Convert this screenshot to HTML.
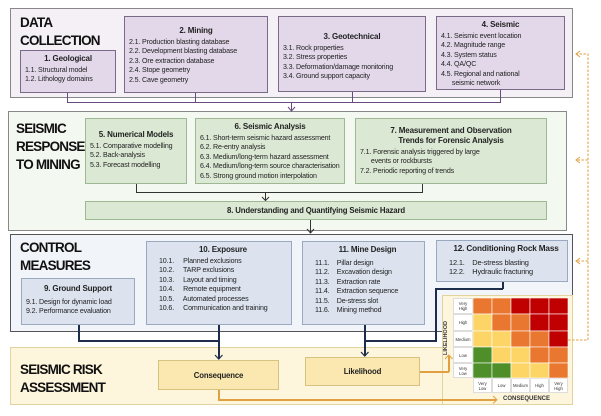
<!DOCTYPE html><html><head><style>
*{margin:0;padding:0;box-sizing:border-box}
body{width:601px;height:416px;background:#fff;position:relative;font-family:"Liberation Sans",sans-serif;overflow:hidden;color:#222}
.a{position:absolute}
.sec{position:absolute;border:1px solid #888}
.t{position:absolute;font-weight:bold;font-size:13.5px;line-height:18px;color:#111;letter-spacing:-0.8px}
.b{position:absolute;padding:3px 4px;font-size:7.1px;line-height:9.4px;letter-spacing:-0.15px;white-space:nowrap}
.b h{display:block;text-align:center;font-weight:bold;font-size:8px;margin-bottom:2px;line-height:10px}
.p{background:#e2d8ea;border:1px solid #7a6a88}
.g{background:#dbe8d4;border:1px solid #9fb894}
.bl{background:#dce3ef;border:1px solid #9aa8c0}
.y{background:#fbe8b0;border:1px solid #d8c280;font-weight:bold;font-size:7.8px;text-align:center}
.ln{position:absolute;background:#333}
.lab{position:absolute;font-size:4.2px;text-align:center;color:#333;line-height:5px;display:flex;align-items:center;justify-content:center;background:#fff;border:0.5px solid #ddd}
</style></head><body>
<div class="sec" style="left:10px;top:8px;width:563px;height:90px;background:#f4f0f6"></div>
<div class="t" style="left:20px;top:14px">DATA<br>COLLECTION</div>
<div class="b p" style="left:20px;top:50px;width:96px;height:43px"><h>1. Geological</h>1.1. Structural model<br>1.2. Lithology domains</div>
<div class="b p" style="left:124px;top:16px;width:144px;height:77px"><h style="margin-top:6px">2. Mining</h>2.1. Production blasting database<br>2.2. Development blasting database<br>2.3. Ore extraction database<br>2.4. Stope geometry<br>2.5. Cave geometry</div>
<div class="b p" style="left:278px;top:16px;width:148px;height:76px"><h style="margin-top:12px">3. Geotechnical</h>3.1. Rock properties<br>3.2. Stress properties<br>3.3. Deformation/damage monitoring<br>3.4. Ground support capacity</div>
<div class="b p" style="left:436px;top:16px;width:129px;height:74px"><h>4. Seismic</h>4.1. Seismic event location<br>4.2. Magnitude range<br>4.3. System status<br>4.4. QA/QC<br>4.5. Regional and national<br>&nbsp;&nbsp;&nbsp;&nbsp;&nbsp;&nbsp;seismic network</div>
<div class="ln" style="left:67px;top:93px;width:1px;height:10px;background:#6a4a80"></div>
<div class="ln" style="left:195px;top:93px;width:1px;height:10px;background:#6a4a80"></div>
<div class="ln" style="left:352px;top:92px;width:1px;height:11px;background:#6a4a80"></div>
<div class="ln" style="left:500px;top:90px;width:1px;height:13px;background:#6a4a80"></div>
<div class="ln" style="left:67px;top:102px;width:434px;height:1px;background:#6a4a80"></div>
<div class="ln" style="left:291px;top:102px;width:1px;height:9px;background:#6a4a80"></div>
<div class="sec" style="left:8px;top:111px;width:559px;height:120px;background:#f3f8f0"></div>
<div class="t" style="left:16px;top:120px">SEISMIC<br>RESPONSE<br>TO MINING</div>
<div class="b g" style="left:85px;top:118px;width:102px;height:66px"><h style="margin-top:8px">5. Numerical Models</h>5.1. Comparative modelling<br>5.2. Back-analysis<br>5.3. Forecast modelling</div>
<div class="b g" style="left:195px;top:118px;width:150px;height:66px"><h>6. Seismic Analysis</h>6.1. Short-term seismic hazard assessment<br>6.2. Re-entry analysis<br>6.3. Medium/long-term hazard assessment<br>6.4. Medium/long-term source characterisation<br>6.5. Strong ground motion interpolation</div>
<div class="b g" style="left:355px;top:118px;width:192px;height:66px"><h style="margin-top:4px">7. Measurement and Observation<br>Trends for Forensic Analysis</h>7.1. Forensic analysis triggered by large<br>&nbsp;&nbsp;&nbsp;&nbsp;&nbsp;&nbsp;events or rockbursts<br>7.2. Periodic reporting of trends</div>
<div class="ln" style="left:136px;top:184px;width:1px;height:9px"></div>
<div class="ln" style="left:422px;top:184px;width:1px;height:9px"></div>
<div class="ln" style="left:136px;top:192px;width:287px;height:1px"></div>
<div class="ln" style="left:265px;top:192px;width:1px;height:8px"></div>
<div class="b g" style="left:85px;top:201px;width:462px;height:19px;text-align:center;font-weight:bold;font-size:7.8px;padding-top:4px">8. Understanding and Quantifying Seismic Hazard</div>
<div class="ln" style="left:310px;top:220px;width:1px;height:13px"></div>
<div class="sec" style="left:10px;top:234px;width:563px;height:98px;background:#f1f4f9;border-color:#555"></div>
<div class="t" style="left:20px;top:239px">CONTROL<br>MEASURES</div>
<div class="b bl" style="left:21px;top:278px;width:114px;height:47px"><h style="margin-top:2px;margin-bottom:4px">9. Ground Support</h>9.1. Design for dynamic load<br>9.2. Performance evaluation</div>
<div class="b bl" style="left:146px;top:241px;width:146px;height:84px;padding-left:12px"><h>10. Exposure</h>10.1.&nbsp;&nbsp;&nbsp;&nbsp; Planned exclusions<br>10.2.&nbsp;&nbsp;&nbsp;&nbsp; TARP exclusions<br>10.3.&nbsp;&nbsp;&nbsp;&nbsp; Layout and timing<br>10.4.&nbsp;&nbsp;&nbsp;&nbsp; Remote equipment<br>10.5.&nbsp;&nbsp;&nbsp;&nbsp; Automated processes<br>10.6.&nbsp;&nbsp;&nbsp;&nbsp; Communication and training</div>
<div class="b bl" style="left:302px;top:241px;width:123px;height:84px;padding-left:12px"><h style="margin-bottom:4px">11. Mine Design</h>11.1.&nbsp;&nbsp;&nbsp; Pillar design<br>11.2.&nbsp;&nbsp;&nbsp; Excavation design<br>11.3.&nbsp;&nbsp;&nbsp; Extraction rate<br>11.4.&nbsp;&nbsp;&nbsp; Extraction sequence<br>11.5.&nbsp;&nbsp;&nbsp; De-stress slot<br>11.6.&nbsp;&nbsp;&nbsp; Mining method</div>
<div class="b bl" style="left:436px;top:240px;width:132px;height:42px;padding-left:12px;font-size:7.4px"><h style="font-size:8.2px;margin-bottom:4px">12. Conditioning Rock Mass</h>12.1.&nbsp;&nbsp;&nbsp; De-stress blasting<br>12.2.&nbsp;&nbsp;&nbsp; Hydraulic fracturing</div>
<div class="sec" style="left:10px;top:347px;width:563px;height:58px;background:#fdf5dc;border-color:#e3d39e"></div>
<div class="a" style="left:442px;top:295px;width:131px;height:110px;background:#fdf5dc;border:1px solid #e3d39e"></div>
<div class="t" style="left:20px;top:361px">SEISMIC RISK<br>ASSESSMENT</div>
<div class="b y" style="left:158px;top:360px;width:121px;height:30px;padding-top:10px">Consequence</div>
<div class="b y" style="left:305px;top:357px;width:115px;height:29px;padding-top:9px">Likelihood</div>
<div class="ln" style="left:78px;top:325px;width:1.5px;height:16px;background:#1f2d4d"></div>
<div class="ln" style="left:78px;top:340px;width:141px;height:1.5px;background:#1f2d4d"></div>
<div class="ln" style="left:218px;top:325px;width:1.5px;height:34px;background:#1f2d4d"></div>
<div class="ln" style="left:364px;top:325px;width:1.5px;height:31px;background:#1f2d4d"></div>
<div class="ln" style="left:364px;top:340px;width:73px;height:1.5px;background:#1f2d4d"></div>
<div class="ln" style="left:435px;top:288px;width:1.5px;height:54px;background:#1f2d4d"></div>
<div class="ln" style="left:435px;top:288px;width:68px;height:1.5px;background:#1f2d4d"></div>
<div class="ln" style="left:502px;top:282px;width:1.5px;height:7px;background:#1f2d4d"></div>
<div class="ln" style="left:218px;top:390px;width:1.5px;height:10px;background:#e0a040"></div>
<div class="ln" style="left:218px;top:399px;width:278px;height:1.5px;background:#e0a040"></div>
<div class="ln" style="left:420px;top:371px;width:29px;height:1.5px;background:#e0a040"></div>
<div class="ln" style="left:448px;top:356px;width:1.5px;height:16px;background:#e0a040"></div>
<div class="a" style="left:426px;top:335px;width:40px;text-align:center;font-size:5.5px;font-weight:bold;transform:rotate(-90deg);color:#333">LIKELIHOOD</div>
<div class="a" style="left:503px;top:396px;font-size:6px;font-weight:bold;color:#333">CONSEQUENCE</div>
<div class="lab" style="left:453px;top:298px;width:20px;height:16px">Very<br>High</div>
<div class="lab" style="left:453px;top:314px;width:20px;height:17px">High</div>
<div class="lab" style="left:453px;top:331px;width:20px;height:16px">Medium</div>
<div class="lab" style="left:453px;top:347px;width:20px;height:16px">Low</div>
<div class="lab" style="left:453px;top:363px;width:20px;height:15px">Very<br>Low</div>
<div class="lab" style="left:473px;top:378px;width:19px;height:15px">Very<br>Low</div>
<div class="lab" style="left:492px;top:378px;width:19px;height:15px">Low</div>
<div class="lab" style="left:511px;top:378px;width:19px;height:15px">Medium</div>
<div class="lab" style="left:530px;top:378px;width:19px;height:15px">High</div>
<div class="lab" style="left:549px;top:378px;width:19px;height:15px">Very<br>High</div>
<svg class="a" style="left:0;top:0" width="601" height="416">
<g stroke="#fff" stroke-width="0.6">
<rect x="473" y="298" width="19" height="16" fill="#e9772f"/><rect x="492" y="298" width="19" height="16" fill="#e9772f"/><rect x="511" y="298" width="19" height="16" fill="#c00000"/><rect x="530" y="298" width="19" height="16" fill="#c00000"/><rect x="549" y="298" width="19" height="16" fill="#c00000"/>
<rect x="473" y="314" width="19" height="17" fill="#fcd566"/><rect x="492" y="314" width="19" height="17" fill="#e9772f"/><rect x="511" y="314" width="19" height="17" fill="#e9772f"/><rect x="530" y="314" width="19" height="17" fill="#c00000"/><rect x="549" y="314" width="19" height="17" fill="#c00000"/>
<rect x="473" y="331" width="19" height="16" fill="#fcd566"/><rect x="492" y="331" width="19" height="16" fill="#fcd566"/><rect x="511" y="331" width="19" height="16" fill="#e9772f"/><rect x="530" y="331" width="19" height="16" fill="#e9772f"/><rect x="549" y="331" width="19" height="16" fill="#c00000"/>
<rect x="473" y="347" width="19" height="16" fill="#4e8f2a"/><rect x="492" y="347" width="19" height="16" fill="#fcd566"/><rect x="511" y="347" width="19" height="16" fill="#fcd566"/><rect x="530" y="347" width="19" height="16" fill="#e9772f"/><rect x="549" y="347" width="19" height="16" fill="#e9772f"/>
<rect x="473" y="363" width="19" height="15" fill="#4e8f2a"/><rect x="492" y="363" width="19" height="15" fill="#4e8f2a"/><rect x="511" y="363" width="19" height="15" fill="#fcd566"/><rect x="530" y="363" width="19" height="15" fill="#fcd566"/><rect x="549" y="363" width="19" height="15" fill="#e9772f"/>
</g>
<g stroke="#e0a040" stroke-width="1" fill="none" stroke-dasharray="2.5,1.5">
<path d="M568 340 H588 V54 H577"/><path d="M588 160 H577"/><path d="M588 261 H577"/>
</g>
<g stroke="#e0a040" stroke-width="1" fill="none">
<path d="M580 51 L576 54 L580 57"/><path d="M580 157 L576 160 L580 163"/><path d="M580 258 L576 261 L580 264"/>
<path d="M445 359 L448.7 355 L452.5 359"/><path d="M493 396 L497 399.7 L493 403.5"/>
</g>
<g stroke="#1f2d4d" stroke-width="1.2" fill="none">
<path d="M215 355 L218.7 359 L222.5 355"/><path d="M361 352 L364.7 356 L368.5 352"/>
</g>
<g stroke="#333" stroke-width="1" fill="none">
<path d="M262 197 L265.5 200.5 L269 197"/><path d="M307 229 L310.5 233 L314 229"/>
</g>
<g stroke="#6a4a80" stroke-width="1" fill="none"><path d="M288 107 L291.5 111 L295 107"/></g>
</svg>
</body></html>
